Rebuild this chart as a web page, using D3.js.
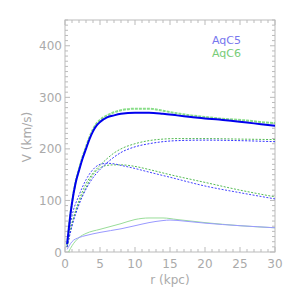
<!DOCTYPE html>
<html><head><meta charset="utf-8">
<script src="https://cdn.jsdelivr.net/npm/d3@7"></script>
<style>html,body{margin:0;padding:0;background:#fff;}svg{display:block;}</style>
</head><body>
<script>
const xTicks=[0,5,10,15,20,25,30];
const yTicks=[0,100,200,300,400];
const seriesNames=["AqC5","AqC6"];
// total
const c5TotalR=[0.3,0.5,0.75,1,1.5,2,2.5,3,3.5,4,4.5,5,6,7,8,10,12,14,16,18,20,22,24,26,28,30];
const c5TotalV=[15,40,70,95,133,158,181,200,219,234,245,252,261,265,268,270,270,268,265,262,259,257,254,251,248,245];
const c6TotalR=[0.3,0.5,0.75,1,1.5,2,2.5,3,3.5,4,4.5,5,6,7,8,10,12,14,16,18,20,22,24,26,28,30];
const c6TotalV=[14,40,70,96,135,161,184,204,223,238,249,256,265,271,275,278,278,274,269,265,262,259,257,255,252,250];
// dark halo
const c5HaloR=[0.3,1,2,3,4,5,6,7,8,10,12,14,16,20,25,30];
const c5HaloV=[10,50,92,122,144,160,173,184,193,204,210,214,216,217,216,214];
const c6HaloR=[0.3,1,2,3,4,5,6,7,8,10,12,14,16,20,25,30];
const c6HaloV=[10,55,100,132,153,168,181,192,200,210,216,219,220,220,219,218];
// stars
const c5StarR=[0.3,1,2,3,4,5,6,7,8,10,12,15,20,25,30];
const c5StarV=[15,70,110,140,160,170,172,171,168,162,155,145,128,115,103];
const c6StarR=[0.3,1,2,3,4,5,6,7,8,10,12,15,20,25,30];
const c6StarV=[10,55,95,125,150,163,168,169,169,166,160,150,135,120,107];
// gas
const c5GasR=[0.3,1,2,3,5,8,10,12,14,15,17,20,25,30];
const c5GasV=[5,20,28,32,38,45,51,57,61,62,60,56,51,47];
const c6GasR=[0.5,1,2,3,5,8,10,12,14,16,20,25,30];
const c6GasV=[0,12,28,36,44,55,63,66,66,63,57,51,47];

const W=295,H=295;
const L=65,R=275,T=20,B=252;
const svg=d3.select("body").append("svg").attr("width",W).attr("height",H);
const x=d3.scaleLinear().domain([0,30]).range([L,R]);
const y=d3.scaleLinear().domain([0,450]).range([B,T]);
const axisCol="#bbbbbb", txtCol="#aaaaaa";
const font="'DejaVu Sans', sans-serif";

svg.append("rect").attr("x",L).attr("y",T).attr("width",R-L).attr("height",B-T)
  .attr("fill","none").attr("stroke",axisCol).attr("stroke-width",1);
const g=svg.append("g").attr("stroke",axisCol).attr("stroke-width",1);
d3.range(0,31,1).forEach(v=>{
  const len = v%5===0?5:3;
  g.append("line").attr("x1",x(v)).attr("x2",x(v)).attr("y1",B).attr("y2",B-len);
  g.append("line").attr("x1",x(v)).attr("x2",x(v)).attr("y1",T).attr("y2",T+len);
});
d3.range(0,451,10).forEach(v=>{
  const len = v%100===0?5:3;
  g.append("line").attr("y1",y(v)).attr("y2",y(v)).attr("x1",L).attr("x2",L+len);
  g.append("line").attr("y1",y(v)).attr("y2",y(v)).attr("x1",R).attr("x2",R-len);
});
xTicks.forEach(v=>{
  svg.append("text").attr("x",x(v)).attr("y",268).attr("text-anchor","middle")
   .attr("font-family",font).attr("font-size",12).attr("fill",txtCol).text(v);
});
yTicks.forEach(v=>{
  svg.append("text").attr("x",62).attr("y",y(v)+4.5).attr("text-anchor","end")
   .attr("font-family",font).attr("font-size",12).attr("fill",txtCol).text(v);
});
svg.append("text").attr("x",170).attr("y",284).attr("text-anchor","middle")
  .attr("font-family",font).attr("font-size",12).attr("fill",txtCol).text("r (kpc)");
svg.append("text").attr("transform","translate(31,137) rotate(-90)").attr("text-anchor","middle")
  .attr("font-family",font).attr("font-size",12).attr("fill",txtCol).text("V (km/s)");

const line=d3.line().x(d=>x(d[0])).y(d=>y(d[1])).curve(d3.curveMonotoneX);
function draw(rs,vs,col,w,dash){
  svg.append("path").datum(rs.map((r,i)=>[r,vs[i]])).attr("d",line)
   .attr("fill","none").attr("stroke",col).attr("stroke-width",w)
   .attr("stroke-dasharray",dash||null);
}
draw(c6GasR,c6GasV,"#99dd99",1);
draw(c5GasR,c5GasV,"#9999ff",1);
draw(c6StarR,c6StarV,"#55bb55",1,"2,1.5");
draw(c5StarR,c5StarV,"#4444ff",1,"2,1.5");
draw(c6HaloR,c6HaloV,"#55bb55",1,"2,1.5");
draw(c5HaloR,c5HaloV,"#3333ff",1,"2,1.5");
draw(c6TotalR,c6TotalV,"#88dd88",2,"3,1");
draw(c5TotalR,c5TotalV,"#0000ee",2);

svg.append("text").attr("x",212).attr("y",44).attr("font-family",font).attr("font-size",11)
  .attr("fill","#7777ee").text(seriesNames[0]);
svg.append("text").attr("x",212).attr("y",57).attr("font-family",font).attr("font-size",11)
  .attr("fill","#77cc77").text(seriesNames[1]);
</script>
</body></html>
